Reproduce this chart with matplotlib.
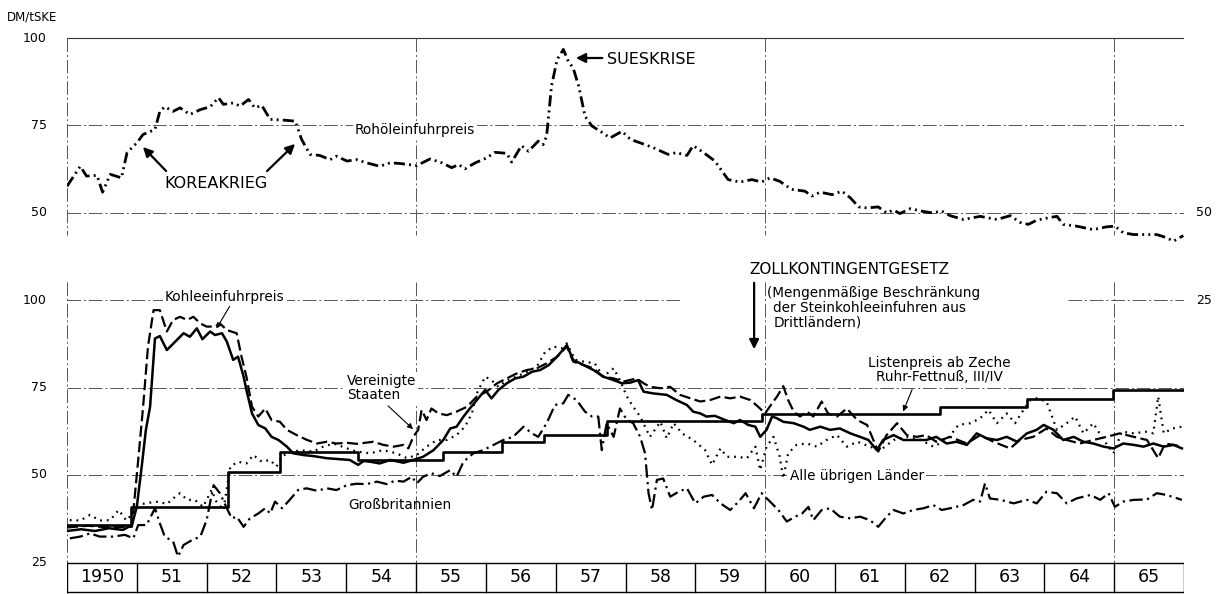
import matplotlib.pyplot as plt

# obere Grafik: Rohöleinfuhrpreis, DM/tSKE
oil_t = [1950.00, 1950.19, 1950.28, 1950.43, 1950.51, 1950.62, 1950.78, 1950.86, 1951.00, 1951.09,
         1951.26, 1951.33, 1951.40, 1951.52, 1951.62, 1951.76, 1951.91, 1952.05, 1952.17, 1952.24,
         1952.38, 1952.48, 1952.60, 1952.69, 1952.79, 1952.91, 1953.10, 1953.27, 1953.36, 1953.48,
         1953.62, 1953.77, 1953.86, 1954.01, 1954.15, 1954.29, 1954.48, 1954.63, 1954.77, 1955.01,
         1955.20, 1955.37, 1955.51, 1955.61, 1955.70, 1955.85, 1956.01, 1956.13, 1956.30, 1956.37,
         1956.51, 1956.61, 1956.75, 1956.82, 1956.87, 1956.94, 1957.02, 1957.11, 1957.18, 1957.25,
         1957.33, 1957.42, 1957.52, 1957.64, 1957.78, 1957.95, 1958.07, 1958.21, 1958.40, 1958.61,
         1958.73, 1958.88, 1958.97, 1959.12, 1959.28, 1959.47, 1959.64, 1959.81, 1959.95, 1960.07,
         1960.21, 1960.38, 1960.57, 1960.67, 1960.79, 1960.96, 1961.10, 1961.22, 1961.34, 1961.46,
         1961.62, 1961.74, 1961.84, 1961.93, 1962.08, 1962.24, 1962.39, 1962.53, 1962.65, 1962.84,
         1963.08, 1963.32, 1963.51, 1963.65, 1963.77, 1963.89, 1964.06, 1964.18, 1964.27, 1964.46,
         1964.70, 1964.89, 1965.01, 1965.13, 1965.28, 1965.47, 1965.61, 1965.75, 1965.85, 1965.99]
oil_v = [57.5, 63.2, 60.4, 60.6, 55.8, 60.9, 59.9, 67.1, 69.9, 72.3,
         73.7, 78.9, 80.2, 78.9, 79.9, 78.0, 79.4, 80.2, 82.8, 80.9,
         81.3, 80.4, 82.3, 79.9, 80.6, 76.6, 76.4, 76.1, 70.9, 66.6,
         66.3, 65.1, 66.1, 64.7, 65.1, 64.2, 63.2, 64.2, 64.0, 63.4,
         65.3, 64.2, 62.8, 63.7, 62.5, 64.2, 65.6, 67.2, 66.9, 64.4,
         69.1, 67.5, 70.4, 69.4, 71.8, 86.1, 93.7, 96.6, 93.2, 91.3,
         86.1, 77.5, 74.7, 73.2, 71.3, 73.2, 70.9, 69.9, 68.5, 66.6,
         67.1, 66.3, 69.1, 67.1, 64.7, 59.4, 58.7, 59.4, 58.7, 59.9,
         58.9, 56.6, 56.1, 54.7, 55.8, 55.1, 56.1, 54.2, 51.6, 51.3,
         51.6, 49.9, 50.7, 49.7, 51.1, 50.4, 49.9, 50.4, 49.1, 48.0,
         48.9, 48.0, 49.1, 47.2, 46.6, 47.8, 48.5, 48.9, 46.6, 46.1,
         45.1, 45.9, 46.1, 44.2, 43.7, 43.7, 43.7, 42.8, 41.8, 43.4]

# untere Grafik: Kohleeinfuhrpreis insgesamt
coal_t = [1950.00, 1950.20, 1950.40, 1950.60, 1950.80, 1950.93, 1951.00, 1951.07, 1951.13, 1951.19,
          1951.26, 1951.33, 1951.43, 1951.55, 1951.67, 1951.76, 1951.86, 1951.94, 1952.05, 1952.12,
          1952.22, 1952.29, 1952.38, 1952.45, 1952.53, 1952.57, 1952.65, 1952.74, 1952.84, 1952.93,
          1953.03, 1953.15, 1953.24, 1953.39, 1953.53, 1953.72, 1953.91, 1954.05, 1954.17, 1954.25,
          1954.34, 1954.48, 1954.63, 1954.82, 1954.96, 1955.10, 1955.25, 1955.39, 1955.49, 1955.58,
          1955.68, 1955.77, 1955.87, 1955.99, 1956.08, 1956.18, 1956.30, 1956.42, 1956.54, 1956.66,
          1956.78, 1956.90, 1957.02, 1957.16, 1957.25, 1957.40, 1957.54, 1957.68, 1957.83, 1957.95,
          1958.07, 1958.18, 1958.26, 1958.40, 1958.59, 1958.73, 1958.88, 1958.97, 1959.07, 1959.16,
          1959.28, 1959.43, 1959.55, 1959.64, 1959.76, 1959.86, 1959.93, 1960.02, 1960.10, 1960.17,
          1960.26, 1960.41, 1960.55, 1960.64, 1960.79, 1960.93, 1961.07, 1961.22, 1961.36, 1961.48,
          1961.60, 1961.69, 1961.84, 1961.98, 1962.12, 1962.31, 1962.45, 1962.60, 1962.74, 1962.89,
          1963.03, 1963.17, 1963.32, 1963.46, 1963.61, 1963.75, 1963.89, 1963.99, 1964.13, 1964.27,
          1964.42, 1964.56, 1964.70, 1964.85, 1964.99, 1965.13, 1965.28, 1965.42, 1965.56, 1965.71,
          1965.85, 1965.97]
coal_v = [34.0, 34.5, 34.0, 34.8, 34.3, 35.7, 40.9, 52.4, 62.9, 69.5,
          89.0, 89.7, 85.7, 88.1, 90.5, 89.5, 91.9, 88.8, 91.0, 90.0,
          90.5, 88.1, 82.9, 83.8, 78.1, 74.3, 67.6, 64.3, 63.3, 60.9,
          60.0, 58.1, 56.2, 55.7, 55.4, 54.8, 54.5, 54.3, 52.9, 54.0,
          53.8, 53.3, 54.3, 53.5, 54.3, 55.2, 57.1, 60.0, 63.3, 63.8,
          66.7, 69.0, 71.4, 74.3, 71.9, 74.3, 76.2, 77.6, 78.1, 79.5,
          80.0, 81.4, 83.8, 87.1, 82.9, 81.4, 80.0, 78.1, 77.1, 76.2,
          76.4, 77.1, 73.8, 73.3, 72.9, 71.4, 70.0, 68.1, 67.6, 66.7,
          66.9, 65.7, 64.8, 65.7, 64.3, 63.8, 60.9, 62.9, 66.7, 66.2,
          65.2, 64.8, 63.8, 62.9, 63.8, 62.9, 63.3, 61.9, 60.9, 60.0,
          57.1, 60.0, 61.4, 60.0, 60.0, 60.0, 60.9, 59.0, 59.5, 58.6,
          61.9, 60.5, 60.0, 60.9, 59.5, 61.9, 62.9, 64.3, 62.9, 60.0,
          60.9, 59.5, 59.0, 58.1, 57.6, 59.0, 58.6, 58.1, 59.0, 58.1,
          58.6, 57.6]

# Vereinigte Staaten
us_t = [1950.00, 1950.30, 1950.60, 1950.93, 1950.97, 1951.02, 1951.09, 1951.16, 1951.24, 1951.33,
        1951.43, 1951.52, 1951.62, 1951.72, 1951.81, 1951.91, 1952.00, 1952.12, 1952.19, 1952.29,
        1952.43, 1952.50, 1952.57, 1952.65, 1952.74, 1952.84, 1952.93, 1953.05, 1953.15, 1953.29,
        1953.44, 1953.58, 1953.72, 1953.86, 1954.01, 1954.15, 1954.39, 1954.53, 1954.68, 1954.82,
        1954.89, 1954.96, 1955.03, 1955.08, 1955.15, 1955.22, 1955.32, 1955.44, 1955.58, 1955.73,
        1955.87, 1956.01, 1956.16, 1956.30, 1956.44, 1956.59, 1956.73, 1956.87, 1957.02, 1957.16,
        1957.25, 1957.40, 1957.54, 1957.68, 1957.83, 1957.97, 1958.16, 1958.26, 1958.35, 1958.50,
        1958.64, 1958.78, 1958.93, 1959.07, 1959.21, 1959.36, 1959.50, 1959.64, 1959.79, 1959.90,
        1960.00, 1960.10, 1960.17, 1960.26, 1960.33, 1960.41, 1960.50, 1960.60, 1960.69, 1960.81,
        1960.90, 1961.03, 1961.17, 1961.32, 1961.46, 1961.62, 1961.74, 1961.89, 1962.03, 1962.17,
        1962.31, 1962.45, 1962.65, 1962.89, 1963.08, 1963.27, 1963.51, 1963.65, 1963.84, 1964.03,
        1964.18, 1964.32, 1964.51, 1964.70, 1964.89, 1965.08, 1965.28, 1965.47, 1965.63, 1965.73,
        1965.85, 1965.97]
us_v = [35.0, 35.5, 35.0, 35.2, 43.8, 54.3, 69.5, 86.7, 97.1, 97.1,
        91.0, 94.3, 95.2, 94.3, 95.2, 93.3, 92.4, 92.4, 93.3, 91.4,
        90.5, 83.8, 78.1, 69.5, 66.7, 69.0, 65.7, 65.2, 62.9, 61.4,
        60.0, 59.0, 59.5, 59.0, 59.2, 58.9, 59.5, 58.6, 58.1, 58.6,
        57.6, 60.9, 62.9, 68.6, 65.7, 69.0, 67.6, 67.1, 68.1, 69.5,
        72.4, 73.8, 76.2, 77.6, 79.0, 80.0, 80.5, 81.9, 83.8, 86.7,
        82.4, 81.4, 80.5, 78.1, 77.6, 76.7, 77.6, 76.2, 75.2, 74.8,
        75.2, 72.9, 71.9, 71.0, 71.4, 72.4, 71.9, 72.4, 71.4, 69.5,
        67.6, 70.5, 72.4, 75.4, 71.4, 68.1, 66.7, 68.1, 66.7, 71.0,
        67.6, 66.7, 69.0, 65.7, 64.3, 56.7, 61.4, 64.8, 61.4, 60.9,
        61.4, 59.5, 60.9, 59.0, 61.4, 59.5, 57.6, 60.0, 60.9, 63.3,
        60.9, 60.0, 59.0, 60.0, 60.9, 61.9, 60.9, 60.0, 54.8, 59.0,
        58.6, 58.1]

# Alle übrigen Länder
rest_t = [1950.04, 1950.19, 1950.33, 1950.47, 1950.62, 1950.74, 1950.85, 1950.94, 1951.07, 1951.19,
          1951.31, 1951.43, 1951.55, 1951.62, 1951.72, 1951.83, 1951.95, 1952.07, 1952.14, 1952.24,
          1952.34, 1952.45, 1952.57, 1952.67, 1952.79, 1952.91, 1953.00, 1953.08, 1953.15, 1953.34,
          1953.53, 1953.67, 1953.82, 1954.01, 1954.15, 1954.34, 1954.53, 1954.72, 1954.87, 1955.01,
          1955.15, 1955.30, 1955.44, 1955.58, 1955.70, 1955.80, 1955.87, 1955.99, 1956.08, 1956.18,
          1956.30, 1956.44, 1956.59, 1956.73, 1956.85, 1956.97, 1957.09, 1957.16, 1957.28, 1957.40,
          1957.56, 1957.68, 1957.83, 1957.92, 1958.02, 1958.11, 1958.21, 1958.35, 1958.50, 1958.59,
          1958.69, 1958.81, 1958.97, 1959.14, 1959.24, 1959.36, 1959.45, 1959.60, 1959.74, 1959.86,
          1959.93, 1960.02, 1960.12, 1960.21, 1960.26, 1960.33, 1960.45, 1960.60, 1960.74, 1960.88,
          1961.03, 1961.17, 1961.32, 1961.50, 1961.65, 1961.84, 1962.03, 1962.23, 1962.41, 1962.60,
          1962.77, 1962.94, 1963.08, 1963.20, 1963.32, 1963.46, 1963.58, 1963.70, 1963.80, 1963.89,
          1964.03, 1964.18, 1964.32, 1964.44, 1964.56, 1964.70, 1964.85, 1964.99, 1965.11, 1965.28,
          1965.47, 1965.56, 1965.63, 1965.71, 1965.83, 1965.97]
rest_v = [37.1, 37.0, 38.6, 37.0, 37.1, 40.0, 37.0, 39.0, 41.7, 42.1,
          42.4, 41.7, 43.8, 44.8, 42.9, 42.9, 40.9, 45.7, 42.4, 40.0,
          52.4, 53.8, 53.3, 55.7, 53.8, 54.3, 52.4, 55.2, 56.2, 57.1,
          56.7, 58.1, 59.0, 57.6, 56.7, 56.2, 57.1, 56.2, 54.8, 55.7,
          58.1, 60.0, 60.0, 61.4, 63.8, 67.6, 73.3, 78.1, 77.1, 75.2,
          77.1, 78.1, 79.5, 81.0, 85.2, 86.7, 86.2, 87.6, 82.9, 82.4,
          81.9, 78.1, 80.5, 77.1, 72.4, 69.5, 66.7, 60.9, 65.2, 60.5,
          64.8, 61.9, 60.0, 57.1, 52.9, 57.6, 55.2, 55.2, 54.8, 58.1,
          51.4, 58.1, 60.9, 55.2, 49.0, 56.2, 58.6, 59.0, 58.1, 60.0,
          61.4, 58.1, 59.5, 58.1, 57.1, 60.0, 60.9, 60.0, 58.1, 60.0,
          64.3, 64.8, 66.2, 68.6, 64.8, 67.6, 64.8, 68.6, 71.4, 71.9,
          71.0, 62.9, 64.8, 66.7, 61.9, 64.8, 60.0, 56.2, 62.4, 61.9,
          62.4, 61.9, 72.4, 61.9, 63.3, 63.8]

# Großbritannien
gb_t = [1950.04, 1950.19, 1950.33, 1950.47, 1950.66, 1950.83, 1950.95, 1951.02, 1951.14, 1951.26,
        1951.33, 1951.40, 1951.52, 1951.59, 1951.67, 1951.79, 1951.91, 1952.00, 1952.10, 1952.19,
        1952.29, 1952.36, 1952.43, 1952.53, 1952.62, 1952.74, 1952.84, 1952.91, 1952.98, 1953.08,
        1953.19, 1953.31, 1953.43, 1953.58, 1953.72, 1953.86, 1954.01, 1954.15, 1954.29, 1954.44,
        1954.58, 1954.70, 1954.82, 1954.94, 1955.01, 1955.10, 1955.22, 1955.34, 1955.49, 1955.58,
        1955.68, 1955.82, 1955.96, 1956.11, 1956.25, 1956.39, 1956.54, 1956.66, 1956.75, 1956.87,
        1956.99, 1957.11, 1957.18, 1957.30, 1957.42, 1957.52, 1957.61, 1957.66, 1957.73, 1957.83,
        1957.92, 1958.02, 1958.11, 1958.21, 1958.28, 1958.33, 1958.38, 1958.45, 1958.54, 1958.64,
        1958.76, 1958.88, 1959.00, 1959.12, 1959.24, 1959.36, 1959.50, 1959.62, 1959.72, 1959.84,
        1959.95, 1960.07, 1960.19, 1960.31, 1960.43, 1960.53, 1960.62, 1960.69, 1960.81, 1960.93,
        1961.07, 1961.22, 1961.36, 1961.50, 1961.62, 1961.74, 1961.84, 1961.98, 1962.12, 1962.27,
        1962.41, 1962.53, 1962.65, 1962.84, 1962.98, 1963.08, 1963.15, 1963.22, 1963.37, 1963.56,
        1963.75, 1963.89, 1964.03, 1964.18, 1964.32, 1964.46, 1964.66, 1964.80, 1964.92, 1965.01,
        1965.13, 1965.28, 1965.47, 1965.61, 1965.75, 1965.97]
gb_v = [31.9, 32.4, 33.3, 32.4, 32.4, 32.9, 31.9, 35.7, 35.7, 40.5,
        36.2, 32.4, 31.0, 26.7, 30.0, 31.4, 32.4, 37.1, 47.1, 44.8,
        40.5, 37.6, 38.1, 35.2, 37.6, 39.0, 40.5, 39.0, 42.4, 40.5,
        42.9, 45.7, 46.2, 45.5, 46.2, 45.7, 47.1, 47.5, 47.4, 48.1,
        47.4, 48.4, 48.1, 49.5, 47.6, 49.5, 50.5, 49.7, 51.4, 49.5,
        53.8, 56.2, 57.1, 58.6, 60.0, 60.9, 63.8, 61.9, 60.9, 64.8,
        70.0, 70.5, 72.9, 71.4, 68.1, 66.7, 66.7, 57.1, 64.8, 60.9,
        69.0, 65.7, 64.8, 60.9, 56.2, 44.8, 40.0, 48.6, 49.0, 43.8,
        45.2, 46.2, 41.9, 43.8, 44.3, 41.9, 40.0, 42.4, 44.8, 40.5,
        44.8, 42.4, 40.0, 36.7, 38.1, 39.0, 40.9, 37.1, 40.0, 40.5,
        38.1, 37.6, 38.1, 37.1, 35.2, 38.1, 40.0, 39.0, 40.0, 40.5,
        41.4, 40.0, 40.5, 41.4, 42.9, 42.4, 47.6, 43.3, 42.9, 41.9,
        42.9, 41.9, 45.2, 44.8, 41.9, 43.3, 44.3, 42.9, 44.8, 40.9,
        42.4, 42.9, 43.0, 44.8, 44.3, 42.9]

# Listenpreis ab Zeche Ruhr-Fettnuß III/IV (Stufen)
list_t = [1950.0, 1950.92, 1952.31, 1953.05, 1954.17, 1955.39, 1956.23, 1956.83, 1957.73,
          1959.95, 1962.50, 1963.75, 1964.99, 1966.0]
list_v = [35.7, 41.0, 51.0, 56.7, 54.4, 56.7, 59.3, 61.4, 65.4, 67.3, 69.5, 71.6, 74.3, 74.3]

years = list(range(1950, 1966))
year_labels = ["1950"] + [str(y)[2:] for y in years[1:]]

OFFSET = 75  # obere Skala: 50 der oberen Grafik liegt auf Höhe 125 der unteren


def P(x, y):
    # Bildpunkt -> Datenkoordinaten (nur für Beschriftungen)
    return 1950 + (x - 67) / 69.8, 100 - (y - 300) / 3.5


fig = plt.figure(figsize=(12.29, 5.94), dpi=100)
ax = fig.add_axes([67 / 1229, 0, 1117 / 1229, 1])
ax.set_xlim(1950, 1966)
ax.set_ylim(P(0, 594)[1], P(0, 0)[1])
ax.axis('off')

grid = dict(color='#555555', lw=0.7, ls=(0, (14, 3, 2, 3)), zorder=1)
solid = dict(color='#333333', lw=0.8, zorder=1)

# Rahmen und Gitter oben
ax.plot([1950, 1966], [175, 175], **solid)
ax.plot([1950, 1966], [150, 150], **grid)
ax.plot([1950, 1966], [125, 125], **grid)
for x in [1950, 1955, 1960, 1965, 1966]:
    ax.plot([x, x], [175, P(0, 235)[1]], **grid)

# Gitter unten
ax.plot([1950, P(680, 0)[0]], [100, 100], **grid)
ax.plot([P(1068, 0)[0], 1966], [100, 100], **grid)
ax.plot([1950, 1966], [75, 75], **grid)
ax.plot([1950, 1966], [50, 50], **grid)
for x in [1950, 1955, 1960, 1965, 1966]:
    ax.plot([x, x], [P(0, 282)[1], 25], **grid)

# Jahresleiste
ybot = P(0, 592)[1]
ax.plot([1950, 1966], [25, 25], color='black', lw=1.0, zorder=2)
ax.plot([1950, 1966], [ybot, ybot], color='black', lw=1.0, zorder=2)
for x in years + [1966]:
    ax.plot([x, x], [25, ybot], color='black', lw=1.0, zorder=2)
for x, lab in zip(years, year_labels):
    ax.text(x + 0.5, (25 + ybot) / 2, lab, ha='center', va='center', fontsize=12.5)

# Datenreihen
oil_y = [v + OFFSET for v in oil_v]
ax.plot(oil_t, oil_y, color='black', lw=2.0, ls=(0, (4, 1.5, 0.7, 1.5, 0.7, 1.5)), zorder=4)
ax.plot(list_t, list_v, color='black', lw=1.9, drawstyle='steps-post', zorder=4)
ax.plot(coal_t, coal_v, color='black', lw=1.8, zorder=5)
ax.plot(us_t, us_v, color='black', lw=1.6, ls=(0, (5, 2)), zorder=5)
ax.plot(rest_t, rest_v, color='black', lw=1.6, ls=(0, (0.8, 2.2)), zorder=5)
ax.plot(gb_t, gb_v, color='black', lw=1.6, ls=(0, (6, 2, 1, 2)), zorder=5)

# Achsenbeschriftung
ax.text(*P(7, 17), "DM/tSKE", ha='left', va='center', fontsize=8.5)
for val, ypx in [(100, 38), (75, 125.5), (50, 213)]:
    ax.text(*P(47, ypx), str(val), ha='right', va='center', fontsize=9)
for val, ypx in [(100, 300), (75, 387.5), (50, 475), (25, 562.5)]:
    ax.text(*P(47, ypx), str(val), ha='right', va='center', fontsize=9)
ax.text(*P(1196, 213), "50", ha='left', va='center', fontsize=9)
ax.text(*P(1196, 300), "25", ha='left', va='center', fontsize=9)

white = dict(fc='white', ec='none', pad=1.5)
big_arrow = dict(arrowstyle='-|>', color='black', lw=1.6, mutation_scale=14)
thin_arrow = dict(arrowstyle='-|>', color='black', lw=0.8, mutation_scale=8)

# oben
ax.text(*P(216, 184), "KOREAKRIEG", ha='center', va='center', fontsize=11.5)
ax.annotate("", xy=P(141, 145), xytext=P(168, 173), arrowprops=big_arrow)
ax.annotate("", xy=P(297, 142), xytext=P(265, 173), arrowprops=big_arrow)
ax.text(*P(415, 130), "Rohöleinfuhrpreis", ha='center', va='center', fontsize=9.8,
        bbox=white, zorder=3)
ax.text(*P(607, 59), "SUESKRISE", ha='left', va='center', fontsize=11.5)
ax.annotate("", xy=P(573, 58), xytext=P(605, 58), arrowprops=big_arrow)

# unten
ax.text(*P(749, 270), "ZOLLKONTINGENTGESETZ", ha='left', va='center', fontsize=11)
ax.annotate("", xy=P(754, 352), xytext=P(754, 280), arrowprops=big_arrow)
ax.text(*P(767, 293), "(Mengenmäßige Beschränkung", ha='left', va='center', fontsize=9.8)
ax.text(*P(773, 308), "der Steinkohleeinfuhren aus", ha='left', va='center', fontsize=9.8)
ax.text(*P(773, 323), "Drittländern)", ha='left', va='center', fontsize=9.8)

ax.text(*P(165, 297), "Kohleeinfuhrpreis", ha='left', va='center', fontsize=9.8,
        bbox=white, zorder=3)
ax.annotate("", xy=P(215, 331), xytext=P(231, 304), arrowprops=thin_arrow)
ax.text(*P(347, 388), "Vereinigte\nStaaten", ha='left', va='center', fontsize=9.8,
        linespacing=1.05, bbox=white, zorder=3)
ax.annotate("", xy=P(415, 431), xytext=P(386, 404), arrowprops=thin_arrow)
ax.text(*P(348, 505), "Großbritannien", ha='left', va='center', fontsize=9.8)
ax.text(*P(790, 476), "Alle übrigen Länder", ha='left', va='center', fontsize=9.8,
        bbox=white, zorder=3)
ax.text(*P(939, 370), "Listenpreis ab Zeche\nRuhr-Fettnuß, III/IV", ha='center', va='center',
        fontsize=9.8, linespacing=1.05)
ax.annotate("", xy=P(902, 414), xytext=P(913, 387), arrowprops=thin_arrow)

fig.savefig("out.png", dpi=100)
